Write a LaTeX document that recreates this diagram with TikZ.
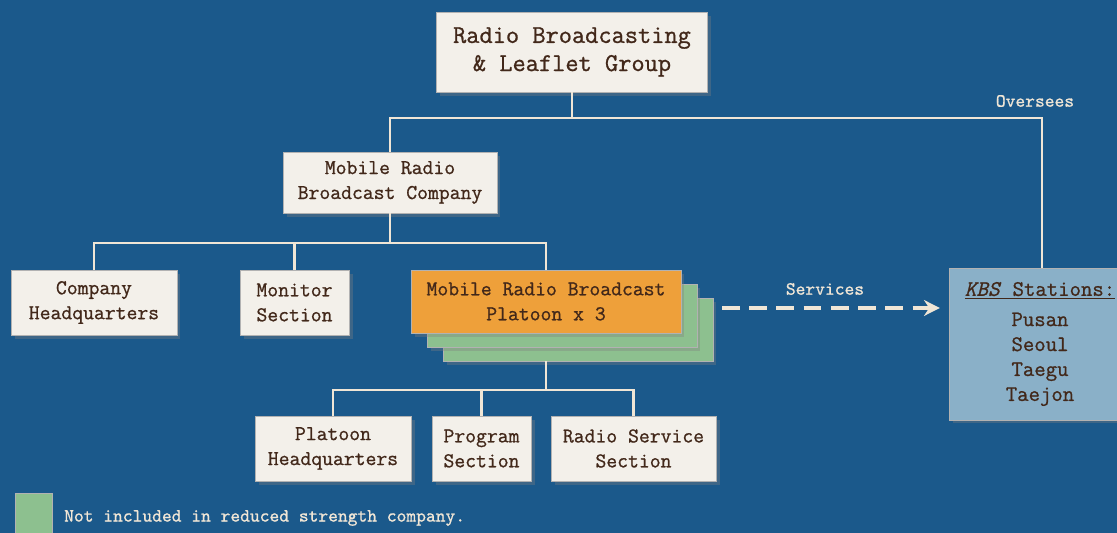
\documentclass[tikz,border=0pt]{standalone}
\usepackage{fontspec}
\setmonofont{Latin Modern Mono}[FakeBold=0.9]
\usetikzlibrary{arrows.meta,shadows}
\definecolor{bgblue}{RGB}{27,89,139}
\definecolor{paper}{RGB}{243,240,234}
\definecolor{ink}{RGB}{66,40,26}
\definecolor{wire}{RGB}{240,230,214}
\definecolor{platorange}{RGB}{238,160,58}
\definecolor{platgreen}{RGB}{141,192,143}
\definecolor{kbsblue}{RGB}{138,176,200}
\tikzset{
  card/.style={draw=black!30,fill=paper,text=ink,align=center,inner sep=0pt,
    font=\ttfamily\fontsize{12}{14.2}\selectfont,
    drop shadow={shadow xshift=2pt,shadow yshift=-2pt,opacity=.35}},
  link/.style={draw=wire,line width=1.2pt},
  lbl/.style={text=wire,font=\ttfamily\fontsize{10.6}{12}\selectfont}
}
\begin{document}
\begin{tikzpicture}[x=0.02cm,y=-0.02cm,>={Stealth[length=9pt,width=9pt]}]
      \fill [bgblue] (0,0) rectangle (1117,533);
      \useasboundingbox (0,0) rectangle (1117,533);
      % top of the tree
      \node [card,minimum width=5.42cm,minimum height=1.6cm,
        font=\ttfamily\fontsize{14.6}{16}\selectfont] (group) at (572,52)
        {Radio Broadcasting\\\& Leaflet Group};
      \node [card,minimum width=4.28cm,minimum height=1.22cm] (company) at (390,182.5)
        {Mobile Radio\\Broadcast Company};
      \node [card,fill=kbsblue,minimum width=3.64cm,minimum height=3.04cm,
        font=\ttfamily\fontsize{12.6}{14.2}\selectfont] (kbs) at (1040,344)
        {\underline{\textit{KBS} Stations:}\\[3pt]Pusan\\Seoul\\Taegu\\Taejon};
      % company level
      \node [card,minimum width=3.32cm,minimum height=1.3cm] (hq) at (94,302.5)
        {Company\\Headquarters};
      \node [card,minimum width=2.18cm,minimum height=1.3cm] (monitor) at (294.5,302.5)
        {Monitor\\Section};
      \node [card,fill=platgreen,minimum width=5.4cm,minimum height=1.26cm] (stackb) at (578,329.5) {};
      \node [card,fill=platgreen,minimum width=5.4cm,minimum height=1.26cm] (stacka) at (562,315.5) {};
      \node [card,fill=platorange,minimum width=5.4cm,minimum height=1.26cm] (platoon) at (546,301.5)
        {Mobile Radio Broadcast\\Platoon x 3};
      % platoon level
      \node [card,minimum width=3.12cm,minimum height=1.3cm] (phq) at (333,448.5)
        {Platoon\\Headquarters};
      \node [card,minimum width=1.98cm,minimum height=1.3cm] (program) at (481.5,448.5)
        {Program\\Section};
      \node [card,minimum width=3.3cm,minimum height=1.3cm] (service) at (633.5,448.5)
        {Radio Service\\Section};
      % connectors
      \coordinate (jtop) at (572,118);
      \coordinate (jco) at (390,243);
      \coordinate (jpl) at (546,390);
      \draw [link] (group) -- (jtop);
      \draw [link] (company.north) |- (jtop) -| ([xshift=0.04cm]kbs.north);
      \draw [link] (company) -- (jco);
      \draw [link] (hq.north) |- (jco) -| (platoon.north);
      \draw [link] (monitor.north) |- (jco);
      \draw [link] (platoon.south |- stackb.south) -- (jpl);
      \draw [link] (phq.north) |- (jpl) -| (service.north);
      \draw [link] (program.north) |- (jpl);
      \coordinate (svc) at (722,308);
      \draw [wire,line width=1.8pt,dash pattern=on 10pt off 5.5pt,->] (svc) -- ([xshift=-5pt]kbs.west |- svc);
      \node [lbl] (oversees) at (1035,101) {Oversees};
      \node [lbl] (services) at (825,289) {Services};
      % legend
      \node [draw=black!30,fill=platgreen,minimum width=0.74cm,minimum height=0.9cm,inner sep=0pt] (key) at (33.5,515.5) {};
      \node [lbl,anchor=west] (keytext) at (58,518) {Not included in reduced strength company.};
    \end{tikzpicture}
\end{document}
